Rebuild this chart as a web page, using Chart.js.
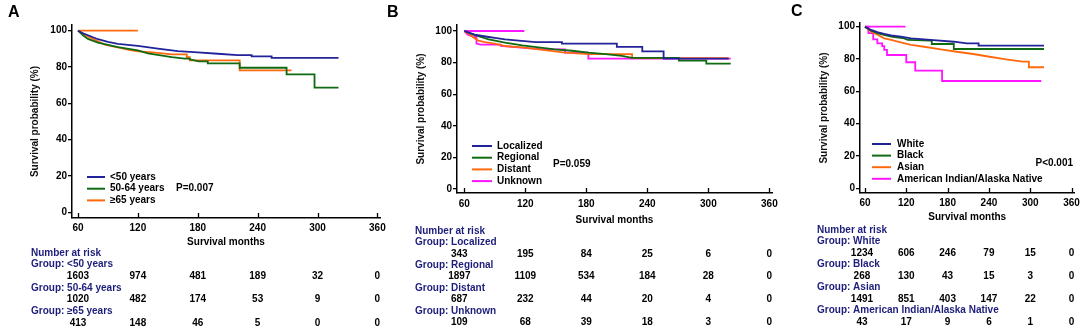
<!DOCTYPE html>
<html>
<head>
<meta charset="utf-8">
<script src="https://cdn.jsdelivr.net/npm/chart.js@4"></script>
<style>
html,body{margin:0;padding:0;background:#fff;}
#wrap{position:relative;width:1084px;height:330px;overflow:hidden;}
canvas{position:absolute;left:0;top:0;}
</style>
</head>
<body>
<div id="wrap">
<canvas id="cA" width="1084" height="330"></canvas>
<canvas id="cB" width="1084" height="330"></canvas>
<canvas id="cC" width="1084" height="330"></canvas>
</div>
<script>
// ---------------- DATA ----------------
const monthTicks = [60, 120, 180, 240, 300, 360];
const survTicks = [0, 20, 40, 60, 80, 100];

// Panel A: age groups
const groupsA = ['<50 years', '50-64 years', '\u226565 years'];
const a1_t = [60, 65, 70, 80, 90, 100, 120, 140, 160, 180, 200, 220, 234, 234, 254, 254, 321];
const a1_s = [100, 98.6, 97.5, 95.3, 93.8, 92.8, 91.6, 90.1, 88.8, 88.1, 87.3, 86.5, 86.5, 85.9, 85.9, 85, 85];
const a2_t = [60, 65, 70, 80, 90, 100, 120, 130, 154, 167, 172, 172, 181, 190, 190, 222, 222, 269, 269, 297, 297, 321];
const a2_s = [100, 97.5, 95.5, 93.4, 92.2, 91, 89.2, 87.5, 85.5, 84.6, 84.6, 84.2, 83.1, 83.1, 82, 82, 79.6, 79.6, 76, 76, 68.6, 68.6];
const a3_t = [60, 70, 80, 87, 100, 111, 120, 135, 154, 169, 169, 172, 172, 222, 222, 274];
const a3_s = [100, 96.8, 94.2, 92.3, 90.8, 89.5, 88.6, 88.1, 87, 87, 85.5, 85.5, 83.7, 83.7, 78.2, 78.2];
const a_flat_t = [60, 120];
const a_flat_s = [100, 100];
const riskA1 = [1603, 974, 481, 189, 32, 0];
const riskA2 = [1020, 482, 174, 53, 9, 0];
const riskA3 = [413, 148, 46, 5, 0, 0];

// Panel B: stage
const groupsB = ['Localized', 'Regional', 'Distant', 'Unknown'];
const b1_t = [60, 70, 84, 90, 100, 130, 156, 156, 210, 210, 235, 235, 256, 256, 320];
const b1_s = [100, 97.7, 96.2, 95.6, 94.7, 93, 93, 92, 92, 89.9, 89.9, 87.1, 87.1, 82.5, 82.5];
const b2_t = [60, 70, 84, 100, 117, 133, 149, 166, 182, 199, 215, 225, 271, 271, 298, 298, 322];
const b2_s = [100, 97.5, 94.7, 92.6, 90.9, 89.7, 88.4, 87.5, 86.3, 85.4, 84.2, 83, 83, 81.3, 81.3, 79.4, 79.4];
const b3_t = [60, 65, 73, 80, 90, 100, 117, 133, 149, 159, 182, 225, 225, 320];
const b3_s = [100, 98, 94.1, 93, 92, 90.5, 89.7, 88.4, 87.1, 86.3, 85.4, 85.4, 82.8, 82.8];
const b4_t = [60, 63, 70, 72, 72, 76, 96, 96, 122, 139, 159, 159, 182, 182, 322];
const b4_s = [100, 97.8, 96.2, 96.2, 92, 91.4, 91.4, 90.5, 89.2, 88.4, 88.4, 86.3, 86.3, 82.5, 82.5];
const b_flat_t = [60, 119];
const b_flat_s = [100, 100];
const riskB1 = [343, 195, 84, 25, 6, 0];
const riskB2 = [1897, 1109, 534, 184, 28, 0];
const riskB3 = [687, 232, 44, 20, 4, 0];
const riskB4 = [109, 68, 39, 18, 3, 0];

// Panel C: race
const groupsC = ['White', 'Black', 'Asian', 'American Indian/Alaska Native'];
const c1_t = [60, 69, 79, 88, 98, 112, 127, 155, 189, 208, 225, 225, 320];
const c1_s = [100, 98, 96.5, 95.5, 94.7, 93.8, 92.8, 91.8, 90.7, 89.7, 89.7, 88.3, 88.3];
const c2_t = [60, 69, 79, 98, 117, 122, 155, 157, 157, 189, 189, 320];
const c2_s = [100, 97.5, 95.9, 93.8, 92.8, 91.8, 91.4, 91.4, 89.3, 89.3, 86.2, 86.2];
const c3_t = [60, 69, 79, 88, 98, 112, 127, 146, 170, 193, 217, 241, 265, 289, 298, 298, 320];
const c3_s = [100, 96.9, 94.9, 92.8, 91.8, 90.3, 88.8, 87.6, 86, 84.5, 83.1, 81.4, 79.8, 78.4, 78.4, 74.9, 74.9];
const c4_t = [60, 65, 65, 72, 72, 78, 78, 85, 85, 88, 88, 92, 92, 120, 120, 133, 133, 172, 172, 316];
const c4_s = [100, 100, 96, 96, 92.2, 92.2, 89.7, 89.7, 88, 88, 85.6, 85.6, 82.5, 82.5, 78, 78, 72.8, 72.8, 66.4, 66.4];
const c_flat_t = [60, 119];
const c_flat_s = [100, 100];
const riskC1 = [1234, 606, 246, 79, 15, 0];
const riskC2 = [268, 130, 43, 15, 3, 0];
const riskC3 = [1491, 851, 403, 147, 22, 0];
const riskC4 = [43, 17, 9, 6, 1, 0];

const pValues = ['P=0.007', 'P=0.059', 'P<0.001'];

// ---------------- STYLE ----------------
const FONT = '"Liberation Sans", Arial, Helvetica, sans-serif';
Chart.defaults.font.family = FONT;
const COL_BLUE = '#22229a';
const COL_GREEN = '#0f6a12';
const COL_ORANGE = '#ff6a0e';
const COL_MAGENTA = '#ff14ff';
const NAVY = '#1d1d7c';

function pts(t, s) { return t.map((x, i) => ({ x: x, y: s[i] })); }

function ds(t, s, color) {
  return { data: pts(t, s), borderColor: color, backgroundColor: color, borderWidth: 1.8,
           pointRadius: 0, tension: 0, fill: false };
}

function extrasPlugin(cfg) {
  return {
    id: 'extras' + cfg.letter,
    afterDraw(chart) {
      const ctx = chart.ctx, xs = chart.scales.x, area = chart.chartArea;
      ctx.save();
      // inward x ticks
      ctx.strokeStyle = '#000'; ctx.lineWidth = 1.3;
      monthTicks.forEach(m => {
        const px = Math.round(xs.getPixelForValue(m)) + 0.5;
        ctx.beginPath(); ctx.moveTo(px, area.bottom); ctx.lineTo(px, area.bottom - 5); ctx.stroke();
      });
      // panel letter
      ctx.fillStyle = '#000';
      ctx.font = 'bold 16px ' + FONT;
      ctx.textBaseline = 'middle'; ctx.textAlign = 'left';
      ctx.fillText(cfg.letter, cfg.letterX, cfg.letterY);
      // legend
      ctx.font = 'bold 10px ' + FONT;
      cfg.groups.forEach((g, i) => {
        const y = cfg.legY + i * cfg.legDy;
        ctx.strokeStyle = cfg.colors[i]; ctx.lineWidth = 2;
        ctx.beginPath(); ctx.moveTo(cfg.legX1, y); ctx.lineTo(cfg.legX2, y); ctx.stroke();
        ctx.fillStyle = '#000'; ctx.textAlign = 'left';
        ctx.fillText(g, cfg.legTx, y);
      });
      // p-value
      ctx.textAlign = cfg.pAlign;
      ctx.fillText(cfg.pText, cfg.pX, cfg.pY);
      // risk table
      ctx.textAlign = 'left'; ctx.fillStyle = NAVY;
      ctx.fillText('Number at risk', cfg.tabX, cfg.tabY);
      cfg.groups.forEach((g, k) => {
        const yl = cfg.tabY + (1 + 2 * k) * cfg.tabDy;
        const yn = cfg.tabY + (2 + 2 * k) * cfg.tabDy;
        ctx.textAlign = 'left'; ctx.fillStyle = NAVY;
        ctx.fillText('Group: ' + g, cfg.tabX, yl);
        ctx.textAlign = 'center'; ctx.fillStyle = '#000';
        cfg.risk[k].forEach((n, i) => {
          const px = xs.getPixelForValue(monthTicks[i]) + (i === 0 ? cfg.firstShift : 0);
          ctx.fillText(String(n), px, yn);
        });
      });
      ctx.restore();
    }
  };
}

function makeChart(id, cfg) {
  return new Chart(document.getElementById(id), {
    type: 'line',
    data: { datasets: cfg.datasets },
    options: {
      responsive: false, animation: false, devicePixelRatio: 1,
      layout: { padding: cfg.padding },
      plugins: { legend: { display: false }, tooltip: { enabled: false } },
      scales: {
        x: {
          type: 'linear', min: cfg.xMin, max: cfg.xMax,
          afterBuildTicks: s => { s.ticks = monthTicks.map(v => ({ value: v })); },
          afterFit: s => { s.height = cfg.xH; },
          grid: { display: false, drawTicks: false, tickLength: 0 },
          border: { display: true, color: '#000', width: 1.5 },
          ticks: { padding: cfg.xTickPad, color: '#000', maxRotation: 0, autoSkip: false,
                   font: { size: 10, weight: 'bold' } },
          title: { display: true, text: 'Survival months', color: '#000',
                   font: { size: 10, weight: 'bold' }, padding: { top: 0, bottom: 0 } }
        },
        y: {
          type: 'linear', min: cfg.yMin, max: cfg.yMax,
          afterBuildTicks: s => { s.ticks = survTicks.map(v => ({ value: v })); },
          afterFit: s => { s.width = cfg.yW; },
          grid: { display: true, drawOnChartArea: false, drawTicks: true, tickLength: 4,
                  color: '#000', lineWidth: 1.3 },
          border: { display: true, color: '#000', width: 1.5 },
          ticks: { padding: 1, color: '#000', font: { size: 10, weight: 'bold' } },
          title: { display: true, text: 'Survival probability (%)', color: '#111',
                   font: { size: 10, weight: 'bold' }, padding: { top: cfg.yTitlePad, bottom: 0 } }
        }
      }
    },
    plugins: [extrasPlugin(cfg)]
  });
}

makeChart('cA', {
  letter: 'A', letterX: 8, letterY: 13,
  datasets: [ds(a1_t, a1_s, COL_BLUE), ds(a2_t, a2_s, COL_GREEN), ds(a3_t, a3_s, COL_ORANGE),
             ds(a_flat_t, a_flat_s, COL_ORANGE)],
  groups: groupsA, colors: [COL_BLUE, COL_GREEN, COL_ORANGE],
  risk: [riskA1, riskA2, riskA3],
  padding: { left: 20, right: 704, top: 25, bottom: 82 },
  xMin: 54, xMax: 362.6, yMin: -3.14, yMax: 103.14, xH: 30, yW: 52, xTickPad: 4, yTitlePad: 9,
  legX1: 87, legX2: 105, legTx: 110, legY: 177, legDy: 11.7,
  pText: pValues[0], pX: 176, pY: 188.5, pAlign: 'left',
  tabX: 31, tabY: 253, tabDy: 11.67, firstShift: 0
});

makeChart('cB', {
  letter: 'B', letterX: 387, letterY: 13,
  datasets: [ds(b1_t, b1_s, COL_BLUE), ds(b2_t, b2_s, COL_GREEN), ds(b3_t, b3_s, COL_ORANGE),
             ds(b4_t, b4_s, COL_MAGENTA), ds(b_flat_t, b_flat_s, COL_MAGENTA)],
  groups: groupsB, colors: [COL_BLUE, COL_GREEN, COL_ORANGE, COL_MAGENTA],
  risk: [riskB1, riskB2, riskB3, riskB4],
  padding: { left: 405, right: 312, top: 25, bottom: 104 },
  xMin: 52.8, xMax: 362.6, yMin: -2.53, yMax: 103.8, xH: 33, yW: 52, xTickPad: 5, yTitlePad: 10,
  legX1: 472, legX2: 492, legTx: 497, legY: 146, legDy: 11.7,
  pText: pValues[1], pX: 553, pY: 164, pAlign: 'left',
  tabX: 415, tabY: 231, tabDy: 11.4, firstShift: -5
});

makeChart('cC', {
  letter: 'C', letterX: 791, letterY: 12,
  datasets: [ds(c1_t, c1_s, COL_BLUE), ds(c2_t, c2_s, COL_GREEN), ds(c3_t, c3_s, COL_ORANGE),
             ds(c4_t, c4_s, COL_MAGENTA), ds(c_flat_t, c_flat_s, COL_MAGENTA)],
  groups: groupsC, colors: [COL_BLUE, COL_GREEN, COL_ORANGE, COL_MAGENTA],
  risk: [riskC1, riskC2, riskC3, riskC4],
  padding: { left: 808, right: 7, top: 23, bottom: 107 },
  xMin: 52.8, xMax: 364.2, yMin: -2.91, yMax: 102.29, xH: 30, yW: 52, xTickPad: 4, yTitlePad: 10,
  legX1: 872, legX2: 891, legTx: 897, legY: 144, legDy: 11.6,
  pText: pValues[2], pX: 1073, pY: 163, pAlign: 'right',
  tabX: 817, tabY: 230, tabDy: 11.5, firstShift: -3
});
</script>
</body>
</html>
